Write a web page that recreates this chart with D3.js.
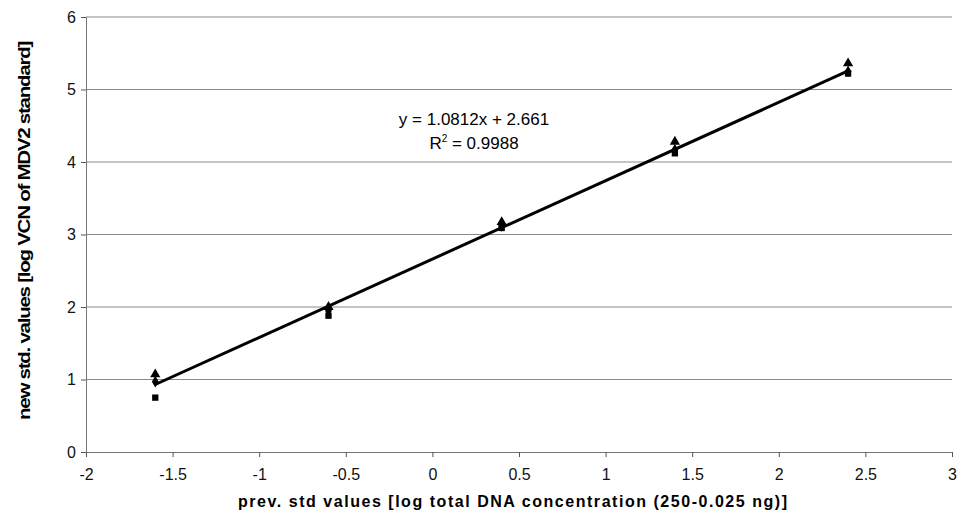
<!DOCTYPE html>
<html>
<head>
<meta charset="utf-8">
<script src="https://cdn.jsdelivr.net/npm/d3@7"></script>
<style>
  body { margin: 0; background: #fff; }
  text { font-family: 'Liberation Sans', Arial, sans-serif; }
</style>
</head>
<body>
<div class="chart"></div>
<script>
let w = 963, h = 516;
let margin = {left: 86, right: 11, top: 17, bottom: 64};

// data
let xValues = [-1.6, -0.6, 0.4, 1.4, 2.4];
let diamondValues = [0.97, 1.95, 3.12, 4.17, 5.25];
let squareValues = [0.75, 1.88, 3.09, 4.12, 5.22];
let triangleValues = [1.07, 2.0, 3.17, 4.28, 5.36];
let xTicks = [-2, -1.5, -1, -0.5, 0, 0.5, 1, 1.5, 2, 2.5, 3];
let yTicks = [0, 1, 2, 3, 4, 5, 6];
let slope = 1.0812, intercept = 2.661;

let svg = d3.select('.chart').append('svg').attr('width', w).attr('height', h);

let xScale = d3.scaleLinear().domain([-2, 3]).range([margin.left, w - margin.right]);
let yScale = d3.scaleLinear().domain([0, 6]).range([h - margin.bottom, margin.top]);

/* ==== GRID ==== */
svg.append('g')
    .selectAll('line')
    .data(yTicks.slice(1))
    .enter().append('line')
    .attr('x1', xScale(-2)).attr('x2', xScale(3))
    .attr('y1', d => yScale(d)).attr('y2', d => yScale(d))
    .attr('stroke', '#8a8a8a')
    .attr('stroke-width', 1);

/* ==== AXES ==== */
let xAxis = d3.axisBottom(xScale).tickValues(xTicks).tickSize(5).tickSizeOuter(0)
    .tickFormat(d => String(d));
let yAxis = d3.axisLeft(yScale).tickValues(yTicks).tickSize(5).tickSizeOuter(0)
    .tickFormat(d => String(d));

let gx = svg.append('g')
    .attr('transform', 'translate(0,' + yScale(0) + ')')
    .call(xAxis);
let gy = svg.append('g')
    .attr('transform', 'translate(' + xScale(-2) + ',0)')
    .call(yAxis);

[gx, gy].forEach(g => {
    g.select('.domain').attr('stroke', '#777');
    g.selectAll('.tick line').attr('stroke', '#555');
    g.selectAll('.tick text').attr('fill', '#111').style('font-size', '16px')
        .style('font-family', "'Liberation Sans', Arial, sans-serif");
});
gx.selectAll('.tick text').attr('y', 17).attr('dy', '0.71em');
gy.selectAll('.tick text').attr('x', -10);

/* ==== TRENDLINE ==== */
let trend = d3.line()
    .x(d => xScale(d))
    .y(d => yScale(slope * d + intercept));
svg.append('path')
    .datum([xValues[0], xValues[xValues.length - 1]])
    .attr('d', trend)
    .attr('fill', 'none')
    .attr('stroke', '#000')
    .attr('stroke-width', 3);

/* ==== MARKERS ==== */
let series = [
    {values: squareValues, type: d3.symbolSquare, size: 40},
    {values: diamondValues, type: d3.symbolDiamond, size: 40},
    {values: triangleValues, type: d3.symbolTriangle, size: 45}
];
series.forEach(s => {
    svg.append('g')
        .selectAll('path')
        .data(s.values)
        .enter().append('path')
        .attr('transform', (d, i) => 'translate(' + xScale(xValues[i]) + ',' + yScale(d) + ')')
        .attr('d', d3.symbol().type(s.type).size(s.size))
        .attr('fill', '#000');
});

/* ==== LABELS ==== */
svg.append('text')
    .text('y = 1.0812x + 2.661')
    .attr('x', 474).attr('y', 125)
    .attr('text-anchor', 'middle')
    .style('font-size', '17px');

let r2 = svg.append('text')
    .attr('x', 474).attr('y', 149)
    .attr('text-anchor', 'middle')
    .style('font-size', '17px');
r2.append('tspan').text('R');
r2.append('tspan').text('2').attr('dy', -7).style('font-size', '10px');
r2.append('tspan').text(' = 0.9988').attr('dy', 7);

svg.append('text')
    .text('prev. std values [log total DNA concentration (250-0.025 ng)]')
    .attr('x', 238).attr('y', 507)
    .attr('textLength', 549)
    .attr('lengthAdjust', 'spacing')
    .style('font-size', '16px')
    .style('font-weight', 'bold');

svg.append('text')
    .text('new std. values [log VCN of MDV2 standard]')
    .attr('transform', 'translate(30,420) rotate(-90)')
    .attr('textLength', 378)
    .attr('lengthAdjust', 'spacingAndGlyphs')
    .style('font-family', "'Liberation Sans Narrow', 'Liberation Sans', Arial, sans-serif")
    .style('font-size', '16px')
    .style('font-weight', 'bold')
    .style('letter-spacing', '-1px');
</script>
</body>
</html>
